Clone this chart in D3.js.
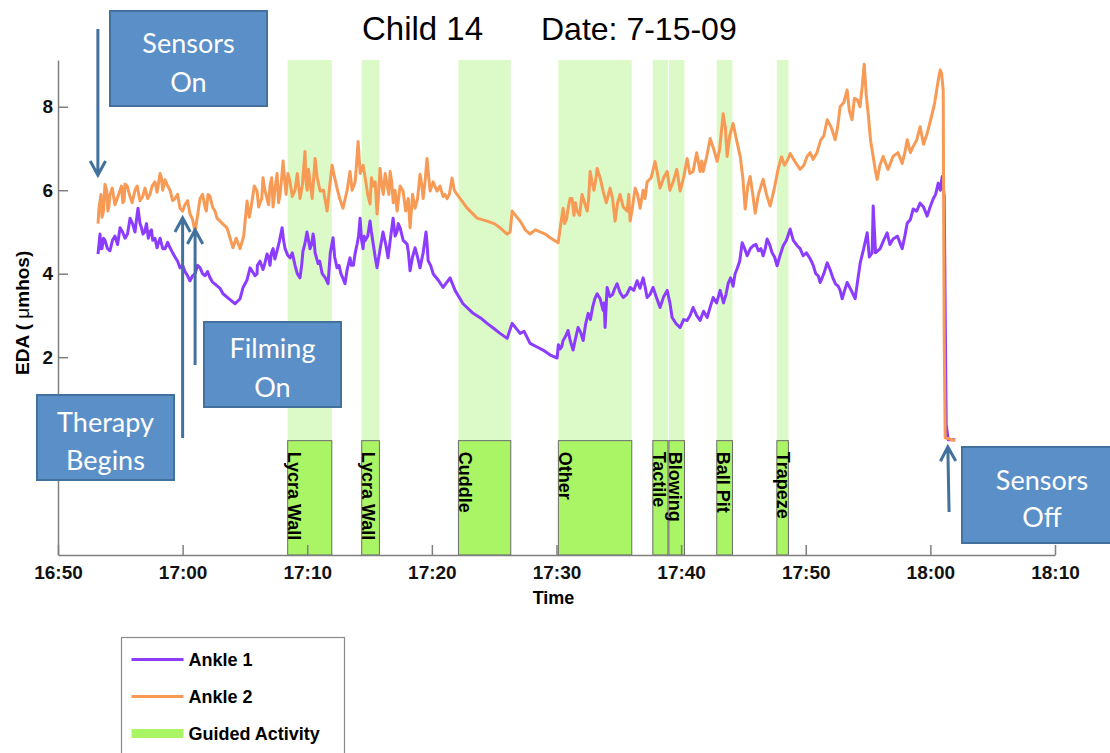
<!DOCTYPE html>
<html>
<head>
<meta charset="utf-8">
<script src="https://cdn.jsdelivr.net/npm/d3@7"></script>
<style>
body { margin:0; background:#fff; }
svg text { font-family: "Liberation Sans", Arial, sans-serif; }
.axis path, .axis line { stroke:#7f7f7f; stroke-width:1.5; }
.axis text { font-size:19px; font-weight:bold; fill:#111; }
.note text { font-family: Lato, "Open Sans", sans-serif; font-size:27px; fill:#fff; }
</style>
</head>
<body>
<div id="canvas"></div>
<script>
//tick labels
var timeTicks = ['16:50','17:00','17:10','17:20','17:30','17:40','17:50','18:00','18:10'];
var edaTicks = [2,4,6,8];

//guided activities, minutes after 16:50
var activityNames = ['Lycra Wall','Lycra Wall','Cuddle','Other','Tactile','Blowing','Ball Pit','Trapeze'];
var activityStart = [18.43, 24.37, 32.13, 40.15, 47.73, 49.02, 52.86, 57.68];
var activityEnd   = [21.97, 25.79, 36.33, 46.04, 48.94, 50.27, 54.12, 58.61];

//EDA readings [minutes after 16:50, umhos]
var ankle1 = [[3.21,4.47],[3.37,4.95],[3.53,4.6],[3.77,4.8],[4.17,4.55],[4.57,4.9],[4.98,5.1],[5.38,4.85],[5.78,5.33],[6.18,5.0],[6.42,5.57],[6.58,5.2],[6.82,4.95],[7.1,5.2],[7.38,5.0],[7.6,4.8],[7.95,4.62],[8.19,4.85],[8.59,4.6],[8.99,4.62],[9.39,4.4],[9.79,4.14],[10.19,4.05],[10.59,3.83],[11.0,4.0],[11.4,4.14],[11.8,3.95],[12.2,3.9],[12.6,3.75],[13.0,3.65],[13.24,3.52],[13.8,3.38],[14.21,3.28],[14.61,3.4],[14.85,3.67],[15.17,3.85],[15.41,4.14],[15.81,3.95],[15.97,4.0],[16.21,4.3],[16.45,4.1],[16.77,4.47],[17.01,4.2],[17.26,4.6],[17.58,4.55],[17.98,5.1],[18.22,4.6],[18.62,4.38],[19.02,4.2],[19.42,3.9],[19.66,4.55],[19.98,5.0],[20.22,4.6],[20.47,4.95],[20.63,4.5],[20.87,4.24],[21.2,4.0],[21.67,3.76],[22.07,4.86],[22.39,4.14],[22.7,4.0],[23.03,3.76],[23.43,4.38],[23.7,4.2],[24.0,4.71],[24.24,5.33],[24.48,4.6],[24.64,4.79],[25.04,5.26],[25.3,4.7],[25.6,4.14],[26.08,5.0],[26.48,4.38],[26.89,5.33],[27.2,5.0],[27.45,5.1],[28.01,4.71],[28.25,4.07],[28.65,4.62],[29.05,4.14],[29.53,5.0],[29.7,4.31],[30.1,4.0],[30.5,3.85],[30.9,3.67],[31.46,3.9],[31.86,3.6],[32.5,3.28],[33.31,3.05],[34.0,2.92],[34.43,2.81],[35.0,2.68],[35.47,2.57],[36.04,2.45],[36.44,2.81],[37.08,2.57],[37.4,2.62],[37.88,2.33],[38.4,2.25],[38.92,2.17],[39.5,2.05],[40.05,1.98],[40.3,2.2],[40.53,2.4],[40.93,2.64],[41.33,2.17],[41.73,2.71],[42.14,2.4],[42.54,3.05],[42.9,3.2],[43.26,3.52],[43.74,3.12],[43.9,2.71],[44.06,3.67],[44.5,3.5],[44.86,3.76],[45.35,3.43],[45.91,3.67],[46.47,3.83],[46.95,3.9],[47.27,3.43],[47.75,3.67],[48.31,3.19],[48.88,3.6],[49.28,2.95],[49.92,2.71],[50.48,2.88],[50.96,3.19],[51.52,2.88],[52.09,2.95],[52.57,3.43],[53.13,3.6],[53.4,3.3],[53.77,3.76],[54.17,3.7],[54.49,4.12],[54.9,4.74],[55.3,4.43],[55.78,4.67],[56.2,4.55],[56.58,4.43],[56.9,4.83],[57.3,4.5],[57.7,4.19],[58.19,4.67],[58.75,5.07],[59.31,4.67],[59.79,4.43],[60.35,4.36],[60.8,4.0],[61.16,3.79],[61.72,4.26],[62.2,3.88],[62.6,3.7],[62.92,3.4],[63.32,3.79],[63.96,3.4],[64.37,4.26],[64.93,4.98],[65.1,4.4],[65.33,4.5],[65.41,5.62],[65.6,4.5],[65.97,4.6],[66.53,4.98],[67.01,4.83],[67.74,4.6],[68.14,5.21],[68.62,5.55],[69.18,5.69],[69.74,5.38],[70.22,5.79],[70.63,6.17],[70.95,6.33],[71.11,5.86],[71.27,0.38],[71.43,0.02],[71.99,0.02]];

//extra readings on the noisy stretches of ankle 1
var ankle1Noise = [[3.45,4.6],[3.65,4.85],[3.97,4.6],[4.37,4.8],[4.78,4.7],[5.18,5.0],[5.58,4.95],[5.98,5.2],[6.3,5.3],[6.7,5.1],[6.95,5.0],[7.25,4.85],[7.5,5.05],[7.78,4.85],[8.07,4.75],[8.4,4.6],[8.8,4.75],[9.2,4.5],[9.6,4.3],[10.0,4.2],[10.4,3.95],[10.8,3.95],[11.2,4.2],[11.6,4.0],[12.0,4.05],[12.4,3.8],[16.0,4.2],[16.6,4.25],[16.9,4.4],[17.13,4.5],[17.4,4.35],[17.78,4.8],[18.1,4.8],[18.42,4.45],[18.8,4.5],[19.2,4.0],[19.55,4.2],[19.8,4.7],[20.1,4.8],[20.35,4.7],[20.55,4.8],[21.0,4.3],[21.45,3.9],[21.85,4.5],[22.2,4.4],[22.55,4.2],[22.85,3.9],[23.2,4.1],[23.55,4.2],[23.85,4.5],[24.12,4.9],[24.36,4.8],[24.56,4.9],[24.85,4.9],[25.15,5.0],[25.45,4.4],[25.85,4.6],[26.3,4.7],[26.7,4.9],[27.05,4.9],[27.3,5.2],[27.7,4.8],[28.12,4.5],[28.45,4.4],[28.85,4.4],[29.3,4.5],[29.62,4.7],[29.9,4.2],[40.15,2.3],[40.42,2.25],[40.73,2.5],[41.1,2.4],[41.53,2.45],[41.93,2.6],[42.34,2.8],[42.72,2.9],[43.08,3.4],[43.5,3.4],[43.82,3.3],[44.28,3.45],[44.68,3.65],[45.1,3.55],[45.63,3.5],[46.2,3.6],[46.7,3.65],[47.1,3.7],[47.5,3.5],[48.0,3.45],[48.6,3.45],[49.1,3.3],[49.6,2.8],[50.2,2.9],[50.72,3.0],[51.24,3.0],[51.8,3.1],[52.33,3.2],[52.85,3.3],[53.27,3.45],[53.6,3.5],[53.97,3.9],[54.33,4.0],[54.7,4.3],[55.1,4.6],[55.55,4.6],[56.0,4.7],[56.4,4.6],[56.75,4.6],[57.1,4.7],[57.5,4.4],[57.95,4.45],[58.45,4.8],[59.0,4.8],[59.55,4.6],[60.05,4.5],[60.6,4.2],[61.0,3.95],[61.45,4.0],[61.95,4.1],[62.4,3.75],[62.76,3.6],[63.12,3.6],[63.65,3.6],[64.15,3.8],[64.65,4.6],[66.25,4.8],[66.75,4.7],[67.35,4.9],[67.95,4.9],[68.4,5.3],[68.9,5.5],[69.45,5.6],[69.98,5.6],[70.42,5.9],[70.8,6.0]];

var ankle2 = [[3.21,5.2],[3.3,5.6],[3.53,5.35],[3.77,6.14],[4.0,5.5],[4.17,5.9],[4.57,5.65],[4.98,6.0],[5.2,5.7],[5.38,6.15],[5.78,5.85],[6.18,6.0],[6.58,5.75],[6.98,6.05],[7.38,5.9],[7.78,6.2],[8.19,6.4],[8.4,6.0],[8.59,6.25],[8.99,6.0],[9.39,5.8],[9.79,5.57],[10.19,5.65],[10.59,5.43],[11.0,5.0],[11.4,5.8],[11.8,5.6],[12.04,5.9],[12.4,5.6],[12.76,5.33],[13.2,5.2],[13.56,5.1],[14.04,4.62],[14.3,4.85],[14.61,4.6],[14.9,4.9],[15.17,5.74],[15.5,5.6],[15.97,5.98],[16.21,5.7],[16.45,6.3],[16.77,5.8],[17.01,6.1],[17.26,5.6],[17.58,6.4],[17.82,5.9],[18.06,6.7],[18.3,5.9],[18.62,6.2],[19.02,6.0],[19.42,5.8],[19.82,6.93],[20.0,6.0],[20.22,6.2],[20.63,6.76],[21.03,5.98],[21.59,5.5],[21.99,6.6],[22.39,6.05],[22.87,5.57],[23.43,6.45],[23.84,6.2],[24.08,7.17],[24.48,6.6],[25.04,5.67],[25.3,6.1],[25.6,5.43],[25.84,6.52],[26.1,5.9],[26.4,6.14],[26.65,6.45],[26.9,5.7],[27.21,5.5],[27.69,5.98],[28.25,5.1],[28.65,5.57],[29.05,6.38],[29.3,5.8],[29.61,6.76],[29.86,5.98],[30.42,5.98],[30.9,5.85],[31.22,5.8],[31.62,6.29],[32.02,5.9],[32.83,5.57],[33.63,5.33],[34.43,5.26],[35.0,5.2],[35.47,5.1],[36.04,4.95],[36.28,5.0],[36.44,5.5],[37.08,5.26],[37.5,5.05],[37.88,4.95],[38.3,5.05],[38.68,5.0],[39.1,4.95],[39.49,4.86],[40.13,4.74],[40.53,5.57],[40.8,5.3],[41.09,5.8],[41.4,5.4],[41.65,5.5],[42.05,5.9],[42.46,5.5],[42.7,6.45],[43.0,6.0],[43.26,6.52],[43.74,5.98],[44.3,6.05],[44.7,5.26],[45.1,5.9],[45.67,5.5],[45.91,5.26],[46.31,6.05],[46.71,5.57],[47.27,6.2],[47.91,6.69],[48.31,6.05],[48.88,6.45],[49.36,6.2],[49.92,5.98],[50.48,6.76],[50.96,6.45],[51.52,6.45],[51.77,6.45],[52.33,7.24],[52.89,6.69],[53.37,7.83],[53.69,6.81],[54.17,7.6],[54.74,6.81],[55.14,5.55],[55.54,6.33],[55.94,5.45],[56.58,6.26],[57.14,5.62],[57.78,6.5],[58.3,6.6],[58.75,6.88],[59.55,6.5],[60.11,6.81],[60.59,6.74],[61.2,7.2],[61.72,7.69],[62.36,7.21],[62.76,8.0],[63.32,8.4],[63.72,7.69],[64.13,8.17],[64.53,8.48],[64.69,9.02],[65.01,7.83],[65.41,6.81],[65.73,6.26],[66.21,6.81],[67.01,6.81],[67.74,6.64],[68.14,7.21],[68.62,7.05],[69.18,7.52],[69.74,7.36],[70.14,7.83],[70.55,8.48],[70.79,8.88],[71.03,8.4],[71.11,2.45],[71.19,0.07],[71.99,0.0]];

//extra readings on the noisy stretches of ankle 2
var ankle2Noise = [[3.45,5.9],[3.65,5.5],[3.9,6.0],[4.08,5.6],[4.35,6.05],[4.75,5.8],[5.1,6.1],[5.3,5.75],[5.55,6.1],[5.95,5.7],[6.35,6.1],[6.8,5.85],[7.2,5.8],[7.55,6.1],[7.95,5.95],[8.3,6.3],[8.8,6.1],[9.2,5.75],[9.6,5.9],[10.0,5.5],[10.4,5.75],[10.8,5.3],[11.2,5.4],[11.6,5.9],[11.9,5.5],[12.2,5.85],[12.6,5.5],[15.35,5.35],[15.75,6.1],[16.1,5.6],[16.35,5.8],[16.6,6.0],[16.9,5.65],[17.15,6.3],[17.4,6.0],[17.7,5.7],[17.95,6.3],[18.2,6.2],[18.45,6.4],[18.8,5.85],[19.2,6.4],[19.6,6.1],[19.9,6.2],[20.1,6.5],[20.4,5.8],[20.8,6.3],[21.3,6.0],[21.8,6.1],[22.2,6.3],[22.6,5.8],[23.2,6.0],[23.6,6.0],[23.95,6.6],[24.25,6.4],[24.7,6.2],[24.85,5.9],[25.15,6.3],[25.45,6.2],[25.7,5.8],[25.95,6.2],[26.25,6.4],[26.55,5.9],[26.78,6.2],[27.05,6.0],[27.45,6.1],[27.9,5.5],[28.1,5.8],[28.45,5.9],[28.85,5.8],[29.2,6.1],[29.45,6.2],[29.75,6.3],[30.1,6.2],[30.65,6.1],[31.05,5.9],[31.4,5.9],[31.8,6.0],[40.65,5.2],[40.95,5.6],[41.25,5.8],[41.52,5.7],[41.85,5.4],[42.25,5.7],[42.58,5.8],[42.85,6.2],[43.13,6.2],[43.5,6.3],[44.0,5.7],[44.5,5.8],[44.9,5.7],[45.35,5.6],[45.8,5.9],[46.1,5.6],[46.5,5.9],[46.95,6.0],[47.1,5.8],[47.6,6.3],[48.1,6.4],[48.6,6.3],[49.1,6.0],[49.65,6.5],[50.2,6.3],[50.7,6.4],[51.25,6.9],[51.65,6.7],[52.05,6.8],[52.6,7.0],[53.1,7.0],[53.55,7.5],[53.9,7.3],[54.45,7.2],[54.95,6.3],[55.35,6.1],[55.75,5.9],[56.2,5.9],[56.85,5.9],[57.45,6.0],[58.05,6.8],[58.5,6.7],[59.1,6.7],[59.85,6.6],[60.35,6.9],[60.9,6.9],[61.45,7.3],[62.05,7.5],[62.55,7.5],[63.05,8.1],[63.5,7.9],[63.9,8.2],[64.35,8.0],[64.85,8.3],[65.2,7.2],[65.57,6.5],[65.95,6.6],[66.6,6.5],[67.4,6.9],[67.95,6.9],[68.4,6.9],[68.9,7.2],[69.45,7.1],[69.95,7.6],[70.35,8.1],[70.67,8.7],[70.9,8.8]];

var purple = '#8c3cff', orange = '#f79a55', green = '#aaf566', lightGreen = '#dcfac8';
var noteFill = '#5b8fc7', noteEdge = '#41719c';

//margin convention
var m = {t:60, r:55, b:198, l:58};
var outerWidth = 1110, outerHeight = 753;
var w = outerWidth - m.l - m.r,
    h = outerHeight - m.t - m.b;

var svg = d3.select('#canvas')
    .append('svg')
    .attr('width', outerWidth)
    .attr('height', outerHeight);

var plot = svg.append('g')
    .attr('transform', 'translate(' + m.l + ',' + m.t + ')');

var parseHM = d3.timeParse('%H:%M');
var start = parseHM('16:50');
function toTime(min){ return new Date(start.getTime() + min * 60000); }

var scaleX = d3.scaleTime()
    .domain([parseHM(timeTicks[0]), parseHM(timeTicks[timeTicks.length - 1])])
    .range([0, w]);
var scaleY = d3.scaleLinear()
    .domain([-2.74, 9.12])
    .range([h, 0]);

//light bands behind the traces
plot.selectAll('.band')
    .data(activityNames)
    .enter()
    .append('rect')
    .attr('class', 'band')
    .attr('x', function(d,i){ return scaleX(toTime(activityStart[i])); })
    .attr('y', 0)
    .attr('width', function(d,i){ return scaleX(toTime(activityEnd[i])) - scaleX(toTime(activityStart[i])); })
    .attr('height', scaleY(0))
    .attr('fill', lightGreen);

//activity bars
var acts = plot.selectAll('.act')
    .data(activityNames)
    .enter()
    .append('g')
    .attr('class', 'act');

acts.append('rect')
    .attr('x', function(d,i){ return scaleX(toTime(activityStart[i])); })
    .attr('y', scaleY(0))
    .attr('width', function(d,i){ return scaleX(toTime(activityEnd[i])) - scaleX(toTime(activityStart[i])); })
    .attr('height', h - scaleY(0))
    .attr('fill', green)
    .attr('stroke', '#6b6b6b')
    .attr('stroke-width', 1);

acts.append('text')
    .attr('transform', function(d,i){
      return 'translate(' + (scaleX(toTime(activityStart[i])) + 6.5) + ',' + (scaleY(0) + 11) + ') rotate(90)';
    })
    .attr('dy', '0.35em')
    .style('font-size', '18px')
    .style('font-weight', 'bold')
    .text(function(d){ return d; });

//axes
var axisX = d3.axisBottom()
    .scale(scaleX)
    .tickValues(timeTicks.map(parseHM))
    .tickFormat(d3.timeFormat('%H:%M'))
    .tickSizeInner(-10)
    .tickSizeOuter(0)
    .tickPadding(11);

plot.append('g')
    .attr('class', 'axis')
    .attr('transform', 'translate(0,' + h + ')')
    .call(axisX);

var axisY = d3.axisLeft()
    .scale(scaleY)
    .tickValues(edaTicks)
    .tickSizeInner(-10)
    .tickSizeOuter(0)
    .tickPadding(5);

plot.append('g')
    .attr('class', 'axis')
    .call(axisY);

//traces
var line = d3.line()
    .x(function(d){ return scaleX(toTime(d[0])); })
    .y(function(d){ return scaleY(d[1]); });

function byTime(a, b){ return a[0] - b[0]; }

plot.append('path')
    .datum(ankle1.concat(ankle1Noise).sort(byTime))
    .attr('d', line)
    .attr('fill', 'none')
    .attr('stroke', purple)
    .attr('stroke-width', 3)
    .attr('stroke-linejoin', 'round');

plot.append('path')
    .datum(ankle2.concat(ankle2Noise).sort(byTime))
    .attr('d', line)
    .attr('fill', 'none')
    .attr('stroke', orange)
    .attr('stroke-width', 3)
    .attr('stroke-linejoin', 'round');

//titles
svg.append('text').attr('x', 362).attr('y', 40).style('font-size', '33px').text('Child 14');
svg.append('text').attr('x', 541).attr('y', 40).style('font-size', '32px').text('Date: 7-15-09');

svg.append('text')
    .attr('x', m.l + w / 2 - 3)
    .attr('y', 604)
    .attr('text-anchor', 'middle')
    .style('font-size', '18px')
    .style('font-weight', 'bold')
    .text('Time');

var yLabel = svg.append('text')
    .attr('transform', 'translate(29,375) rotate(-90)')
    .style('font-size', '19px')
    .style('font-weight', 'bold');
yLabel.append('tspan').text('EDA ( ');
yLabel.append('tspan').style('font-weight', 'normal').text('\u03bc');
yLabel.append('tspan').text('mhos)');

//annotations
function arrow(x1, y1, x2, y2){
  var a = Math.atan2(y2 - y1, x2 - x1), len = 16, half = 0.5;
  svg.append('path')
      .attr('d', 'M' + x1 + ',' + y1 + 'L' + x2 + ',' + y2 +
        'M' + (x2 - len * Math.cos(a - half)) + ',' + (y2 - len * Math.sin(a - half)) +
        'L' + x2 + ',' + y2 +
        'L' + (x2 - len * Math.cos(a + half)) + ',' + (y2 - len * Math.sin(a + half)))
      .attr('fill', 'none')
      .attr('stroke', noteEdge)
      .attr('stroke-width', 3);
}

function note(x, y, bw, bh, lines, base){
  var g = svg.append('g').attr('class', 'note');
  g.append('rect')
      .attr('x', x).attr('y', y).attr('width', bw).attr('height', bh)
      .attr('fill', noteFill).attr('stroke', noteEdge).attr('stroke-width', 2);
  lines.forEach(function(t, i){
    g.append('text')
        .attr('x', x + bw / 2)
        .attr('y', base[i])
        .attr('text-anchor', 'middle')
        .text(t);
  });
}

var xAt = function(min){ return m.l + scaleX(toTime(min)); };

arrow(xAt(3.2), 29, xAt(3.2), 175);
arrow(xAt(10.0), 438, xAt(10.0), 218);
arrow(xAt(11.0), 365, xAt(11.0), 230);
arrow(xAt(71.5), 512, xAt(71.4), 447);

note(110, 11, 157, 95, ['Sensors', 'On'], [53, 92]);
note(37, 395, 137, 85, ['Therapy', 'Begins'], [432, 470]);
note(204, 322, 137, 85, ['Filming', 'On'], [358, 397]);
note(962, 447, 160, 96, ['Sensors', 'Off'], [490, 527]);

//legend
var legend = svg.append('g').attr('transform', 'translate(121.5,637.5)');
legend.append('rect')
    .attr('width', 223).attr('height', 140)
    .attr('fill', '#fff').attr('stroke', '#8a8a8a').attr('stroke-width', 1.2);

var legendNames = ['Ankle 1', 'Ankle 2', 'Guided Activity'];
var legendColors = [purple, orange, green];
var legendWidths = [2.8, 2.8, 9];

legendNames.forEach(function(n, i){
  var ly = 22 + i * 37;
  legend.append('line')
      .attr('x1', 10).attr('x2', 62).attr('y1', ly).attr('y2', ly)
      .attr('stroke', legendColors[i]).attr('stroke-width', legendWidths[i]);
  legend.append('text')
      .attr('x', 67).attr('y', ly).attr('dy', '0.35em')
      .style('font-size', '18px').style('font-weight', 'bold')
      .text(n);
});
</script>
</body>
</html>
